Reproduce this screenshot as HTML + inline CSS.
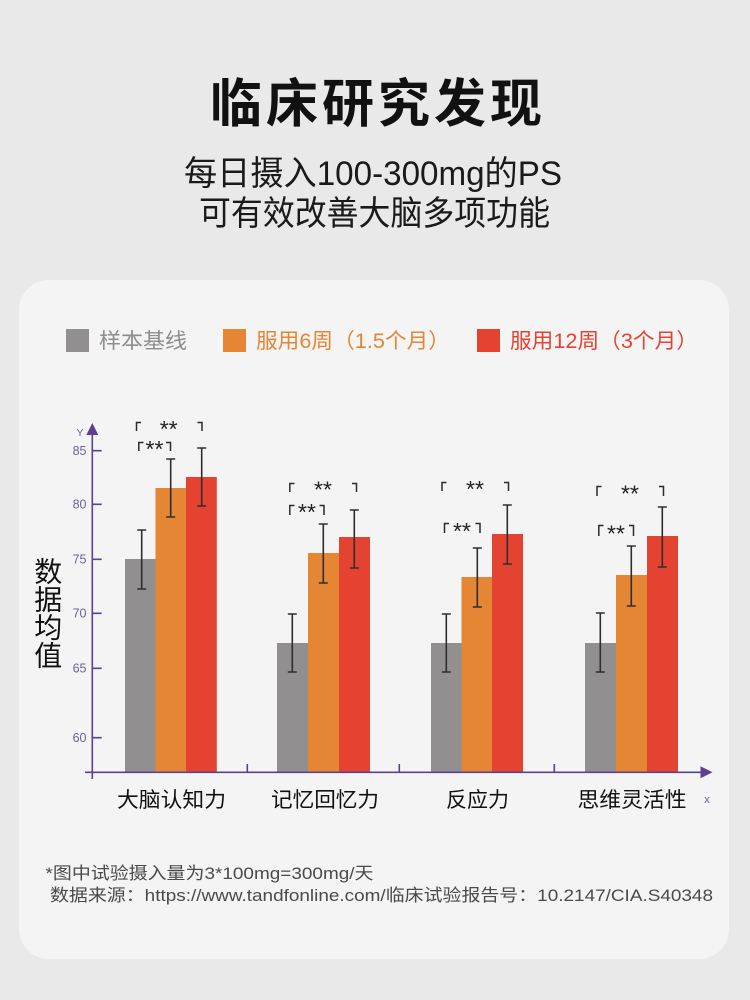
<!DOCTYPE html>
<html><head><meta charset="utf-8"><style>
html,body{margin:0;padding:0;background:#e9e9e9;}
svg{display:block;}
text{font-family:"Liberation Sans","Noto Sans CJK SC",sans-serif;}
.cjk{font-family:"Noto Sans CJK SC","Liberation Sans",sans-serif;}
</style></head><body>
<svg width="750" height="1000" viewBox="0 0 750 1000" xmlns="http://www.w3.org/2000/svg">
<rect x="0" y="0" width="750" height="1000" fill="#e9e9e9"/>
<!-- Title -->
<text x="210" y="122" font-size="52" font-weight="bold" letter-spacing="4" fill="#111" class="cjk">临床研究发现</text>
<text x="184" y="185" font-size="34" fill="#1a1a1a" textLength="378" lengthAdjust="spacingAndGlyphs">每日摄入100-300mg的PS</text>
<text x="199" y="225" font-size="34" fill="#1a1a1a" textLength="351" lengthAdjust="spacingAndGlyphs" class="cjk">可有效改善大脑多项功能</text>

<!-- Card -->
<rect x="19" y="280" width="710" height="679" rx="30" ry="30" fill="#f4f4f4"/>

<!-- Legend -->
<rect x="66" y="329" width="23" height="23" fill="#918f90"/>
<text x="99" y="348" font-size="21" fill="#8e8c8d" textLength="88" lengthAdjust="spacingAndGlyphs">样本基线</text>
<rect x="223" y="329" width="23" height="23" fill="#e48634"/>
<text x="256" y="348" font-size="21" fill="#e48634" textLength="194" lengthAdjust="spacingAndGlyphs">服用6周（1.5个月）</text>
<rect x="477" y="329" width="23" height="23" fill="#e44332"/>
<text x="510" y="348" font-size="21" fill="#e44332" textLength="188" lengthAdjust="spacingAndGlyphs">服用12周（3个月）</text>

<!-- Bars -->
<g>
<rect x="125" y="559" width="30.5" height="213" fill="#918f90"/>
<rect x="155.5" y="488" width="30.7" height="284" fill="#e48634"/>
<rect x="186" y="477" width="30.8" height="295" fill="#e44332"/>

<rect x="277" y="643" width="31" height="129" fill="#918f90"/>
<rect x="308" y="553" width="31" height="219" fill="#e48634"/>
<rect x="339" y="537" width="31" height="235" fill="#e44332"/>

<rect x="431" y="643" width="30.5" height="129" fill="#918f90"/>
<rect x="461.5" y="577" width="30.5" height="195" fill="#e48634"/>
<rect x="492" y="534" width="31" height="238" fill="#e44332"/>

<rect x="585" y="643" width="31" height="129" fill="#918f90"/>
<rect x="616" y="575" width="31" height="197" fill="#e48634"/>
<rect x="647" y="536" width="31" height="236" fill="#e44332"/>
</g>

<!-- Error bars -->
<g stroke="#2e2e2e" stroke-width="1.6" fill="none">
<path d="M141.7 530V589M137.2 530H146.2M137.2 589H146.2"/>
<path d="M170.7 459V517M166.2 459H175.2M166.2 517H175.2"/>
<path d="M201.7 448V506M197.2 448H206.2M197.2 506H206.2"/>

<path d="M292.3 614V672M287.8 614H296.8M287.8 672H296.8"/>
<path d="M323.3 524V583M318.8 524H327.8M318.8 583H327.8"/>
<path d="M354.3 510V568M349.8 510H358.8M349.8 568H358.8"/>

<path d="M446.3 614V672M441.8 614H450.8M441.8 672H450.8"/>
<path d="M477.3 548V607M472.8 548H481.8M472.8 607H481.8"/>
<path d="M507.3 505V564M502.8 505H511.8M502.8 564H511.8"/>

<path d="M600.3 613V672M595.8 613H604.8M595.8 672H604.8"/>
<path d="M631.3 546V606M626.8 546H635.8M626.8 606H635.8"/>
<path d="M662.3 507V567M657.8 507H666.8M657.8 567H666.8"/>
</g>

<!-- Significance brackets -->
<g stroke="#2a2a2a" stroke-width="1.5" fill="none">
<path d="M136.5 431V422.5H141M197.5 422.5H202 V431"/>
<path d="M138.8 451V442.5H143.5M166 442.5H170.5V451"/>

<path d="M289.8 492V483.5H294.5M352 483.5H356.5V492"/>
<path d="M289.8 515V505.5H294.5M319.5 505.5H324V515"/>

<path d="M442 491V482.5H446.5M504 482.5H508.5V491"/>
<path d="M444.5 533V523.5H449M475.5 523.5H480V533"/>

<path d="M597 496V486.5H601.5M659 486.5H663.5V496"/>
<path d="M598.8 536V525.5H603.5M629 525.5H633.5V536"/>
</g>
<g font-size="23" fill="#222" text-anchor="middle">
<text x="168.7" y="437">**</text>
<text x="154.5" y="457">**</text>
<text x="323" y="497.5">**</text>
<text x="307" y="520">**</text>
<text x="475" y="497">**</text>
<text x="462" y="539">**</text>
<text x="630" y="501.5">**</text>
<text x="616" y="541.5">**</text>
</g>

<!-- Axes -->
<g stroke="#5d4190" stroke-width="1.6" fill="none">
<path d="M92.3 433V779"/>
<path d="M85 772.3H702"/>
<path d="M92.3 450.7H101.7M92.3 504.3H101.7M92.3 559.3H101.7M92.3 613.3H101.7M92.3 668.3H101.7M92.3 737.7H101.7"/>
<path d="M247.3 764V772M399.3 764V772M554.3 764V772"/>
</g>
<path d="M92.3 423L86.3 435H98.3Z" fill="#5d4190"/>
<path d="M712.5 772.3L700.5 766.3V778.3Z" fill="#5d4190"/>

<g font-size="12.5" fill="#6f5f98" text-anchor="end">
<text x="86.5" y="455">85</text>
<text x="86.5" y="508.6">80</text>
<text x="86.5" y="563.6">75</text>
<text x="86.5" y="617.6">70</text>
<text x="86.5" y="672.6">65</text>
<text x="86.5" y="742">60</text>
</g>
<text x="80" y="436" font-size="10.5" fill="#6f5f98" text-anchor="middle">Y</text>
<text x="707" y="803" font-size="11" fill="#6f5f98" text-anchor="middle">x</text>

<!-- Y axis title -->
<g font-size="28" fill="#111" text-anchor="middle" class="cjk">
<text x="48.3" y="581.5">数</text>
<text x="48.3" y="609.5">据</text>
<text x="48.3" y="637.5">均</text>
<text x="48.3" y="665.5">值</text>
</g>

<!-- Category labels -->
<g font-size="21" fill="#111" class="cjk">
<text x="117" y="807" textLength="109" lengthAdjust="spacingAndGlyphs">大脑认知力</text>
<text x="271" y="807" textLength="108" lengthAdjust="spacingAndGlyphs">记忆回忆力</text>
<text x="446" y="807" textLength="63" lengthAdjust="spacingAndGlyphs">反应力</text>
<text x="577.5" y="807" textLength="109" lengthAdjust="spacingAndGlyphs">思维灵活性</text>
</g>

<!-- Footnotes -->
<text x="45.5" y="879" font-size="17" fill="#4a4a4a" textLength="328" lengthAdjust="spacingAndGlyphs">*图中试验摄入量为3*100mg=300mg/天</text>
<text x="50" y="901" font-size="17" fill="#4a4a4a" textLength="663" lengthAdjust="spacingAndGlyphs">数据来源：https://www.tandfonline.com/临床试验报告号：10.2147/CIA.S40348</text>
</svg>
</body></html>
